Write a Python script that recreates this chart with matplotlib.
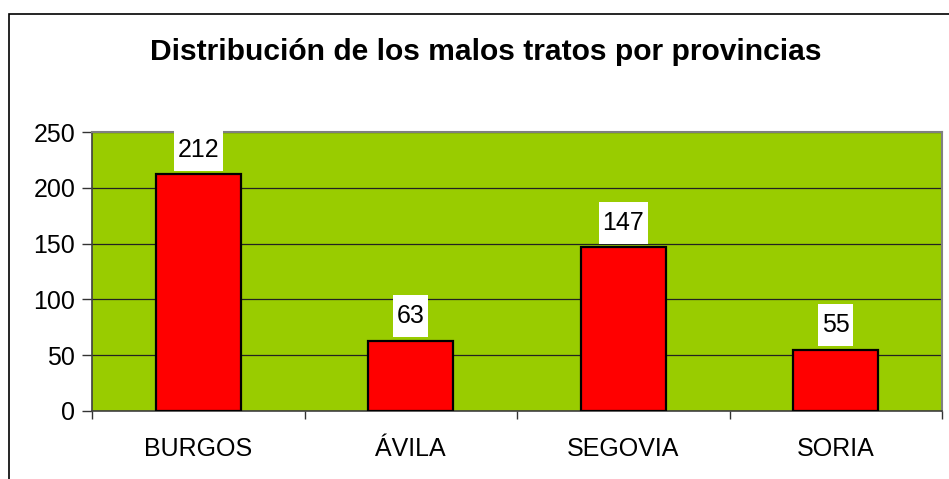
import numpy as np
import matplotlib
matplotlib.use("Agg")
import matplotlib.pyplot as plt
import matplotlib.patches as patches

plt.rcParams['font.family'] = ['Liberation Sans', 'DejaVu Sans']

provincias = ["BURGOS", "ÁVILA", "SEGOVIA", "SORIA"]
casos = [212, 63, 147, 55]
y_ticks = [0, 50, 100, 150, 200, 250]
titulo = "Distribución de los malos tratos por provincias"

W, H = 949, 479
fig = plt.figure(figsize=(W / 100, H / 100), dpi=100)
# plot area in pixels: x 92..942, y 132..411
ax = fig.add_axes([92 / W, 1 - 411 / H, 850 / W, 279 / H])
ax.set_facecolor("#99CC00")

# outer chart frame (left and top visible, rest off the image)
fig.add_artist(patches.Rectangle((8.5 / W, -0.1), 1.2, 1 - 14.5 / H + 0.1,
                                 transform=fig.transFigure, fill=False,
                                 edgecolor="black", linewidth=1.2))

x = np.arange(len(provincias))
ax.set_xlim(-0.5, len(provincias) - 0.5)
ax.set_ylim(0, 250)
ax.set_yticks(y_ticks)
ax.yaxis.grid(True, color="#222222", linewidth=0.9)
ax.set_axisbelow(True)

ax.bar(x, casos, width=0.4, color="#FF0000", edgecolor="black", linewidth=1.6, zorder=3)

for xi, v in zip(x, casos):
    ax.annotate(str(v), (xi, v), xytext=(0, 17.6), textcoords="offset points",
                ha="center", va="center", fontsize=18,
                bbox=dict(boxstyle="square,pad=0.15", mutation_aspect=2.4,
                          facecolor="white", edgecolor="none"),
                zorder=5)

# category ticks at boundaries, labels centered
ax.set_xticks(np.arange(len(provincias) + 1) - 0.5)
ax.set_xticklabels([])
ax.set_xticks(x, minor=True)
ax.set_xticklabels(provincias, minor=True, fontsize=18)
ax.tick_params(axis="x", which="minor", length=0, pad=19)
ax.tick_params(axis="x", which="major", length=6, width=1, color="#333333", direction="out")
ax.tick_params(axis="y", length=7, width=1, color="#333333", labelsize=18, pad=5)

for s in ["top", "right"]:
    ax.spines[s].set_color("#808080")
    ax.spines[s].set_linewidth(1.5)
for s in ["left", "bottom"]:
    ax.spines[s].set_color("#404040")
    ax.spines[s].set_linewidth(1.2)

fig.text(486 / W, 1 - 60 / H, titulo, ha="center", va="baseline",
         fontsize=21.6, fontweight="bold")

fig.savefig("out.png", dpi=100)
